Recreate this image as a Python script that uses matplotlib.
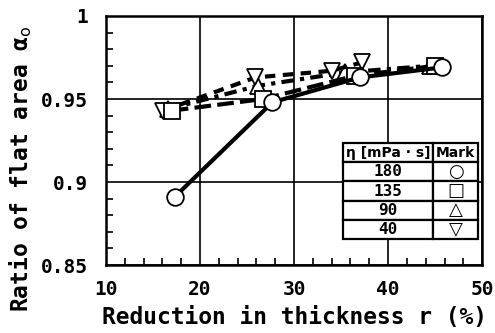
import matplotlib.pyplot as plt
import numpy as np

# data
r_180 = [17.3, 27.7, 37.0, 45.7]
a_180 = [0.891, 0.948, 0.963, 0.969]
r_135 = [17.0, 26.7, 36.5, 45.0]
a_135 = [0.943, 0.950, 0.964, 0.970]
r_90 = [16.6, 26.2, 35.4, 44.5]
a_90 = [0.944, 0.958, 0.966, 0.970]
r_40 = [16.1, 25.9, 34.0, 37.2]
a_40 = [0.943, 0.963, 0.967, 0.972]

eta = ['180', '135', '90', '40']
marks = ['○', '□', '△', '▽']

plt.rcParams['font.family'] = ['DejaVu Sans Mono', 'DejaVu Sans']

fig = plt.figure(figsize=(4.95, 3.33), dpi=100)
ax = fig.add_axes([0.214, 0.204, 0.760, 0.748])

kw = dict(color='k', lw=3, ms=12, mfc='white', mec='k', mew=1.3)
ax.plot(r_180, a_180, '-', marker='o', zorder=5, **kw)
ax.plot(r_135, a_135, marker='s', ls=(0, (4, 1.5)), zorder=4, **kw)
ax.plot(r_90, a_90, marker='^', ls=(0, (3, 1.5, 1, 1.5)), zorder=3, **kw)
ax.plot(r_40, a_40, marker='v', ls=(0, (2.5, 1.8)), zorder=3, **kw)

ax.set_xlim(10, 50)
ax.set_ylim(0.85, 1.0)
ax.set_xticks([10, 20, 30, 40, 50])
ax.set_xticklabels(['10', '20', '30', '40', '50'])
ax.set_yticks([0.85, 0.9, 0.95, 1.0])
ax.set_yticklabels(['0.85', '0.9', '0.95', '1'])
ax.set_xticks(np.arange(10, 51, 2), minor=True)
ax.set_yticks(np.arange(0.85, 1.001, 0.01), minor=True)
ax.tick_params(which='both', direction='in', width=1.2, labelsize=14)
ax.tick_params(axis='x', which='major', length=0, pad=11)
ax.tick_params(axis='y', which='major', length=0, pad=13)
ax.tick_params(which='minor', length=5)
for lab in ax.get_xticklabels() + ax.get_yticklabels():
    lab.set_fontweight('bold')
ax.grid(True, which='major', color='k', lw=1.2)
for s in ax.spines.values():
    s.set_linewidth(1.8)

ax.set_xlabel('Reduction in thickness r (%)', fontsize=16.5, fontweight='bold', labelpad=5)
ax.set_ylabel(r'Ratio of flat area α$_{\rm o}$', fontsize=16.5, fontweight='bold')
ax.yaxis.set_label_coords(-0.19, 0.386)

tab = ax.table(cellText=[[e, m] for e, m in zip(eta, marks)],
               colLabels=['η [mPa · s]', 'Mark'],
               colWidths=[0.239, 0.120], cellLoc='center',
               bbox=[0.630, 0.104, 0.359, 0.386], zorder=10)
tab.auto_set_font_size(False)
for (i, j), cell in tab.get_celld().items():
    cell.set_linewidth(1.6)
    cell.set_facecolor('white')
    t = cell.get_text()
    t.set_fontweight('bold')
    if i == 0:
        t.set_fontsize(10)
        t.set_family(['DejaVu Sans'])
    elif j == 1:
        t.set_fontsize(13)
        t.set_fontweight('normal')
        t.set_family(['DejaVu Sans'])
    else:
        t.set_fontsize(11.5)

fig.savefig('out.png', dpi=100)
